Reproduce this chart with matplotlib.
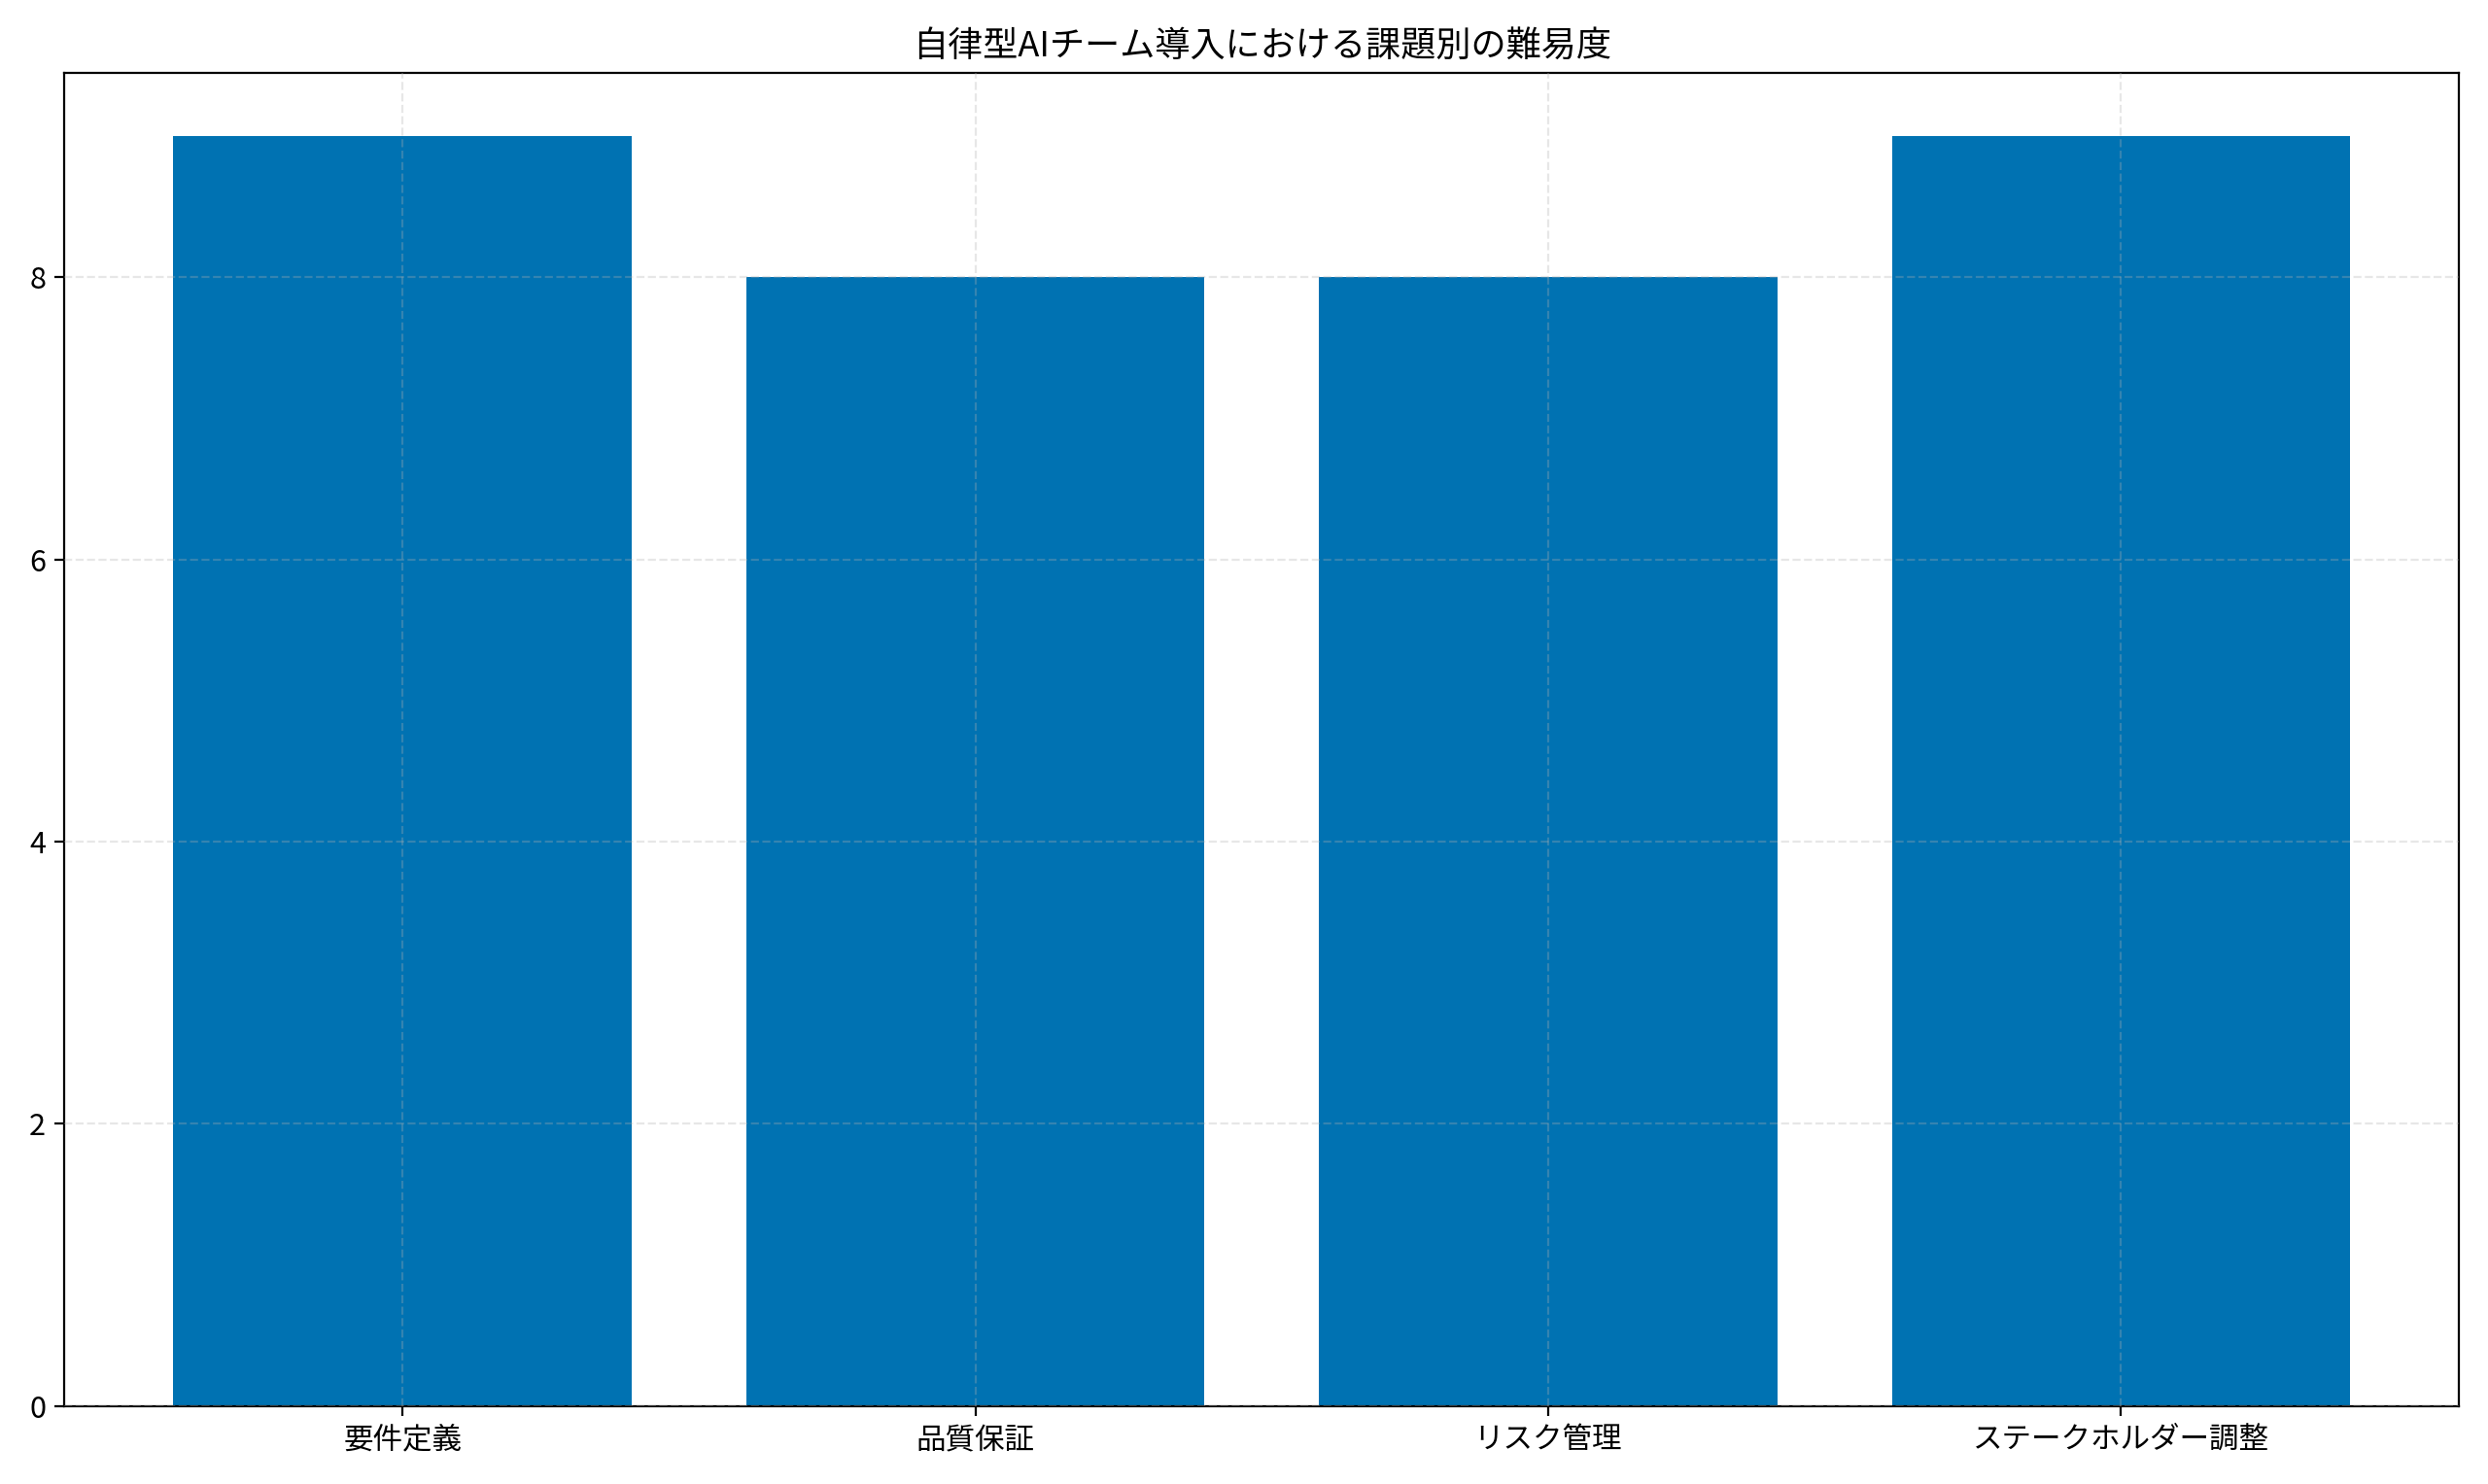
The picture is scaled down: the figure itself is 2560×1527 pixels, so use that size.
import matplotlib
matplotlib.use("Agg")
import matplotlib.pyplot as plt

plt.rcParams['font.family'] = ['Noto Sans CJK JP', 'DejaVu Sans']

categories = ['要件定義', '品質保証', 'リスク管理', 'ステークホルダー調整']
difficulty = [9, 8, 8, 9]

fig, ax = plt.subplots(figsize=(12.8, 7.635), dpi=200)
ax.bar(categories, difficulty, color='#0072B2')
ax.set_axisbelow(False)
ax.grid(True, linestyle='--', alpha=0.3)
ax.set_title('自律型AIチーム導入における課題別の難易度', fontsize=13)
ax.tick_params(labelsize=11)
fig.tight_layout()
fig.savefig('out.png', dpi=200)
